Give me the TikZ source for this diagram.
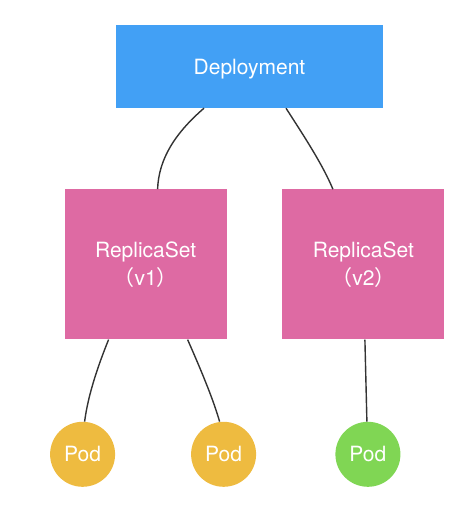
\documentclass[tikz,border=0pt]{standalone}
\usepackage{fontspec}
\setmainfont{TeX Gyre Heros}
\newfontfamily\cjk{Noto Sans CJK SC}
\usetikzlibrary{positioning}
\definecolor{depblue}{RGB}{66,160,245}
\definecolor{rspink}{RGB}{222,106,163}
\definecolor{podyellow}{RGB}{238,187,64}
\definecolor{podgreen}{RGB}{128,214,84}
\tikzstyle{dbox}=[rectangle, fill=depblue, text=white, minimum width=267pt,
                  minimum height=83pt, inner sep=0pt, text depth=0pt,
                  font=\fontsize{21}{28}\selectfont]
\tikzstyle{rbox}=[rectangle, fill=rspink, text=white, minimum width=162pt,
                  minimum height=150pt, inner sep=0pt, align=center,
                  font=\fontsize{21}{28}\selectfont]
\tikzstyle{podbox}=[circle, fill=podyellow, text=white, minimum size=65pt,
                    inner sep=0pt, font=\fontsize{21}{28}\selectfont]
\tikzstyle{pline}=[-, line width=1.4pt, black!80]
\begin{document}
\begin{tikzpicture}[node distance=0mm]
\useasboundingbox (0,0) rectangle (460pt,-510pt);

\node (DEPLOY) [dbox] at (249.5pt,-66.5pt) {Deployment};

\node (RSv1) [rbox,below left=81pt and -111pt of DEPLOY] {ReplicaSet\\{\cjk （}v1{\cjk ）}};
\node (RSv2) [rbox,below right=81pt and -101pt of DEPLOY] {ReplicaSet\\{\cjk （}v2{\cjk ）}};

 \draw[pline] ([xshift=-45.5pt]DEPLOY.south) .. controls +(-29pt,-25pt) and +(1pt,30pt) .. ([xshift=12pt]RSv1.north);
 \draw[pline] ([xshift=36.5pt]DEPLOY.south) .. controls +(20pt,-31pt) and +(-10pt,24pt) .. ([xshift=-30.5pt]RSv2.north);

\node (PODa) [podbox,below=82pt of RSv1,xshift=-63pt] {Pod};
\node (PODb) [podbox,below=82pt of RSv1,xshift=78pt] {Pod};
\node (PODc) [podbox,fill=podgreen,below=82pt of RSv2,xshift=4.5pt] {Pod};

 \draw[pline] ([xshift=-37pt]RSv1.south) .. controls +(-13pt,-32pt) and +(3pt,23pt) .. ([xshift=2pt]PODa.north);
 \draw[pline] ([xshift=42pt]RSv1.south) .. controls +(15pt,-34pt) and +(-6pt,21pt) .. ([xshift=-4pt]PODb.north);
 \draw[pline] ([xshift=1.5pt]RSv2.south) -- ([xshift=-1pt]PODc.north);

\end{tikzpicture}
\end{document}
